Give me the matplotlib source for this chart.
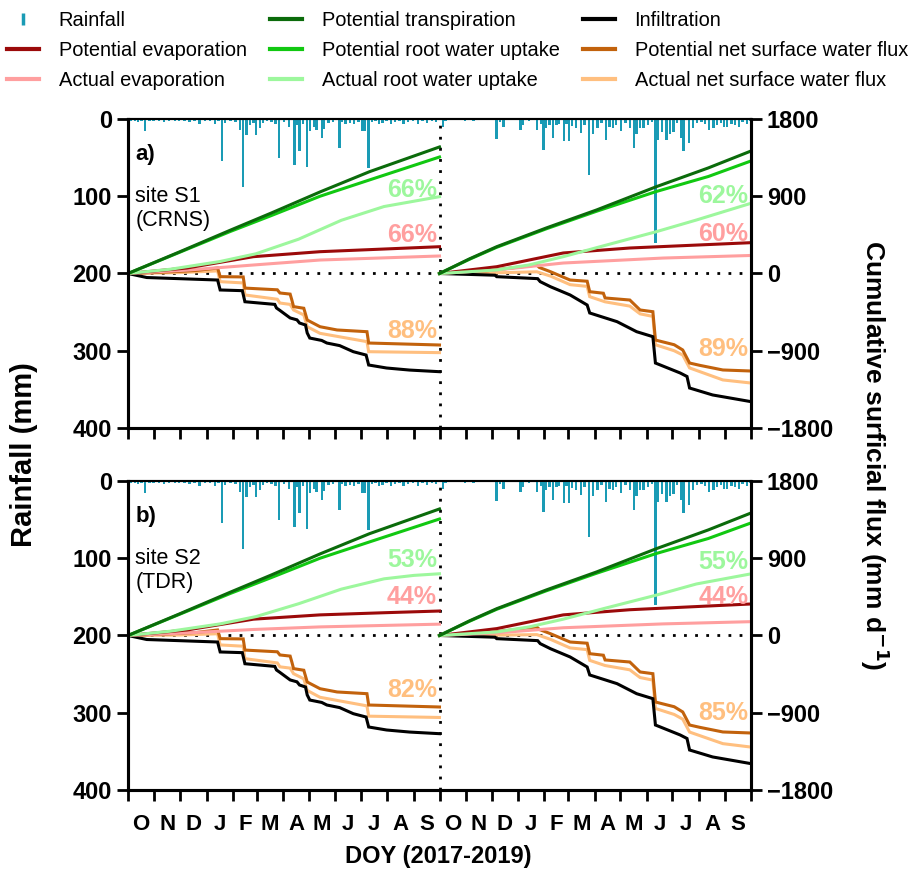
import numpy as np
import matplotlib
matplotlib.use("Agg")
import matplotlib.pyplot as plt
from matplotlib.lines import Line2D

plt.rcParams['font.family'] = ['Liberation Sans', 'DejaVu Sans']

# rainfall events (day since 1 Oct 2017, mm)
rain_day = [3, 8, 12, 16, 20, 25, 30, 36, 42, 48, 55, 60, 66, 72, 78, 84, 90, 96, 102, 106,
            110, 114, 120, 126, 131, 135, 139, 143, 147, 150, 155, 158, 163, 168, 173, 177, 183,
            189, 195, 198, 201, 205, 210, 213, 218, 221, 227, 230, 235, 240, 248, 251, 255, 260,
            265, 270, 274, 277, 282, 286, 290, 294, 298, 303, 308, 313, 318, 323, 328, 334, 340,
            345, 350, 356, 361,
            369, 372, 395, 405, 432, 436, 440, 460, 463, 470, 479, 484, 487, 490, 494, 498, 502,
            505, 511, 514, 517, 520, 525, 531, 535, 540, 545, 550, 555, 560, 564, 568, 572, 578,
            583, 588, 593, 596, 600, 604, 609, 614, 618, 621, 626, 631, 635, 639, 643, 648, 651,
            657, 662, 667, 672, 676, 681, 686, 690, 695, 698, 702, 707, 711, 716, 720, 725, 729]
rain_mm = [3, 2, 4, 3, 16, 3, 2, 3, 4, 2, 3, 2, 3, 4, 2, 6, 2, 3, 7, 3,
           55, 5, 3, 4, 14, 88, 21, 8, 5, 21, 12, 5, 3, 4, 6, 50, 4,
           10, 60, 8, 42, 6, 62, 16, 10, 14, 25, 13, 5, 4, 38, 4, 7, 5,
           6, 4, 15, 15, 63, 4, 3, 6, 5, 3, 7, 4, 3, 6, 4, 3, 6,
           3, 5, 3, 4,
           10, 3, 2, 2, 26, 4, 10, 14, 8, 3, 14, 6, 40, 12, 8, 24, 8,
           7, 29, 6, 29, 9, 12, 18, 8, 72, 20, 12, 5, 27, 10, 12, 8, 16,
           5, 12, 38, 20, 12, 12, 8, 4, 160, 27, 17, 27, 20, 17, 5, 24, 42,
           31, 12, 5, 4, 6, 14, 12, 8, 5, 11, 11, 6, 8, 10, 4, 6, 3]

# cumulative fluxes, year 1 (Oct 2017 - Sep 2018) and year 2 (Oct 2018 - Sep 2019)
pt_d1 = [0, 60, 120, 168, 225, 283, 365]
pt_v1 = [0, 250, 505, 705, 950, 1186, 1474]
pt_d2 = [365, 400, 432, 490, 549, 619, 680, 730]
pt_v2 = [0, 170, 312, 530, 740, 1011, 1230, 1427]

prwu_d1 = [0, 60, 120, 168, 225, 283, 365]
prwu_v1 = [0, 245, 490, 675, 900, 1090, 1357]
prwu_d2 = [365, 400, 432, 490, 549, 619, 680, 730]
prwu_v2 = [0, 165, 305, 520, 725, 955, 1130, 1311]

inf_d1 = [0, 22, 105, 108, 134, 137, 172, 174, 178, 190, 198, 201, 208, 210, 213, 227, 233,
          248, 264, 279, 282, 303, 330, 365]
inf_v1 = [0, -47, -76, -192, -200, -329, -360, -402, -430, -518, -540, -577, -600, -693, -752,
          -780, -810, -840, -911, -950, -1066, -1101, -1125, -1144]
inf_d2 = [365, 430, 432, 480, 483, 495, 518, 538, 541, 573, 596, 615, 618, 647, 655, 658, 685, 730]
inf_v2 = [0, -20, -37, -60, -95, -154, -250, -367, -460, -561, -678, -736, -1043, -1159, -1200,
          -1334, -1415, -1493]

pnet_d1 = [0, 40, 80, 105, 108, 135, 137, 175, 178, 190, 192, 194, 206, 210, 225, 245, 280, 282, 365]
pnet_v1 = [0, 15, 35, 64, -37, -40, -170, -190, -227, -240, -309, -386, -405, -542, -620, -658,
           -678, -810, -833]
pnet_d2 = [365, 420, 479, 482, 495, 518, 538, 541, 557, 559, 588, 600, 615, 618, 640, 650, 658, 670, 697, 730]
pnet_v2 = [0, 30, 99, 70, 21, -76, -90, -212, -230, -285, -309, -425, -445, -775, -830, -891,
           -1043, -1070, -1124, -1136]

# site S1 (CRNS)
a_arwu_d1 = [0, 50, 108, 150, 200, 250, 300, 365]
a_arwu_v1 = [0, 50, 140, 230, 400, 620, 780, 895]
a_arwu_d2 = [365, 432, 470, 510, 560, 619, 666, 730]
a_arwu_v2 = [0, 41, 100, 196, 330, 487, 623, 818]
a_pe_d1 = [0, 69, 147, 225, 300, 365]
a_pe_v1 = [0, 64, 196, 254, 285, 312]
a_pe_d2 = [365, 432, 510, 588, 730]
a_pe_v2 = [0, 79, 239, 297, 359]
a_ae_d1 = [0, 70, 147, 225, 365]
a_ae_v1 = [0, 40, 99, 157, 204]
a_ae_d2 = [365, 432, 510, 627, 730]
a_ae_v2 = [0, 41, 122, 180, 210]
a_anet_d1 = [0, 60, 105, 108, 135, 137, 175, 178, 190, 194, 206, 210, 225, 280, 282, 365]
a_anet_v1 = [0, 10, 30, -95, -110, -250, -300, -344, -360, -425, -483, -620, -697, -794, -911, -922]
a_anet_d2 = [365, 440, 479, 495, 518, 538, 541, 559, 588, 600, 615, 618, 640, 650, 658, 697, 730]
a_anet_v2 = [0, 10, 20, -30, -130, -150, -270, -330, -380, -470, -500, -830, -900, -950, -1100,
             -1240, -1276]

# site S2 (TDR)
b_arwu_d1 = [0, 50, 108, 150, 200, 250, 300, 335, 365]
b_arwu_v1 = [0, 50, 135, 220, 370, 540, 660, 700, 719]
b_arwu_d2 = [365, 432, 470, 510, 560, 619, 666, 730]
b_arwu_v2 = [0, 41, 100, 190, 320, 470, 600, 718]
b_pe_d1 = [0, 69, 147, 225, 300, 365]
b_pe_v1 = [0, 64, 190, 240, 265, 285]
b_pe_d2 = [365, 432, 510, 588, 730]
b_pe_v2 = [0, 80, 240, 300, 367]
b_ae_d1 = [0, 70, 147, 225, 365]
b_ae_v1 = [0, 30, 70, 100, 132]
b_ae_d2 = [365, 432, 510, 627, 730]
b_ae_v2 = [0, 30, 90, 135, 161]
b_anet_d1 = [0, 60, 105, 108, 135, 137, 175, 178, 190, 194, 206, 210, 225, 280, 282, 365]
b_anet_v1 = [0, 5, 20, -110, -125, -270, -320, -365, -380, -445, -505, -640, -720, -820, -940, -955]
b_anet_d2 = [365, 440, 479, 495, 518, 538, 541, 559, 588, 600, 615, 618, 640, 650, 658, 697, 730]
b_anet_v2 = [0, 5, 10, -45, -145, -165, -290, -350, -400, -490, -520, -850, -920, -975, -1125,
             -1260, -1300]

# ratio labels: (year1 RWU, year1 E, year1 net, year2 RWU, year2 E, year2 net)
a_pct = ["66%", "66%", "88%", "62%", "60%", "89%"]
a_pct_y = [973, 448, -670, 903, 460, -880]
b_pct = ["53%", "44%", "82%", "55%", "44%", "85%"]
b_pct_y = [880, 449, -635, 856, 449, -903]

month_len = [31, 30, 31, 31, 28, 31, 30, 31, 30, 31, 31, 30] * 2
month_lab = list("ONDJFMAMJJAS") * 2

C_RAIN = '#1a9bb5'
C_PT = '#0b6b0b'
C_PRWU = '#11c811'
C_ARWU = '#9df79d'
C_PE = '#9b0a0a'
C_AE = '#ff9f9f'
C_INF = 'black'
C_PNET = '#c2620c'
C_ANET = '#ffbf7f'
LW = 2.2

fig = plt.figure(figsize=(9.09, 8.71), dpi=100)
ax_a = fig.add_axes([0.1408, 0.5086, 0.6854, 0.3548])
ax_b = fig.add_axes([0.1408, 0.0930, 0.6854, 0.3548])

edges = np.concatenate([[0], np.cumsum(month_len)])
centers = (edges[:-1] + edges[1:]) / 2

panels = [
    (ax_a, "a)", "site S1\n(CRNS)", a_arwu_d1, a_arwu_v1, a_arwu_d2, a_arwu_v2,
     a_pe_d1, a_pe_v1, a_pe_d2, a_pe_v2, a_ae_d1, a_ae_v1, a_ae_d2, a_ae_v2,
     a_anet_d1, a_anet_v1, a_anet_d2, a_anet_v2, a_pct, a_pct_y),
    (ax_b, "b)", "site S2\n(TDR)", b_arwu_d1, b_arwu_v1, b_arwu_d2, b_arwu_v2,
     b_pe_d1, b_pe_v1, b_pe_d2, b_pe_v2, b_ae_d1, b_ae_v1, b_ae_d2, b_ae_v2,
     b_anet_d1, b_anet_v1, b_anet_d2, b_anet_v2, b_pct, b_pct_y),
]

for i, p in enumerate(panels):
    (ax, tag, site, rw_d1, rw_v1, rw_d2, rw_v2, pe_d1, pe_v1, pe_d2, pe_v2,
     ae_d1, ae_v1, ae_d2, ae_v2, an_d1, an_v1, an_d2, an_v2, pct, pct_y) = p

    ax.bar(rain_day, rain_mm, width=2.8, color=C_RAIN, zorder=3)
    ax.set_ylim(400, 0)
    ax.set_xlim(0, 730)
    ax.set_yticks([0, 100, 200, 300, 400])
    ax.axvline(365, color='black', ls=(0, (1, 3)), lw=2, zorder=1)

    ax2 = ax.twinx()
    ax2.set_ylim(-1800, 1800)
    ax2.set_yticks([-1800, -900, 0, 900, 1800])
    ax2.axhline(0, color='black', ls=(0, (1, 3)), lw=2, zorder=1)

    for d1, v1, d2, v2, c in [
        (an_d1, an_v1, an_d2, an_v2, C_ANET),
        (pnet_d1, pnet_v1, pnet_d2, pnet_v2, C_PNET),
        (inf_d1, inf_v1, inf_d2, inf_v2, C_INF),
        (ae_d1, ae_v1, ae_d2, ae_v2, C_AE),
        (pe_d1, pe_v1, pe_d2, pe_v2, C_PE),
        (rw_d1, rw_v1, rw_d2, rw_v2, C_ARWU),
        (prwu_d1, prwu_v1, prwu_d2, prwu_v2, C_PRWU),
        (pt_d1, pt_v1, pt_d2, pt_v2, C_PT),
    ]:
        ax2.plot(d1, v1, color=c, lw=LW, solid_joinstyle='miter')
        ax2.plot(d2, v2, color=c, lw=LW, solid_joinstyle='miter')

    pcol = [C_ARWU, C_AE, C_ANET] * 2
    pxs = [362, 362, 362, 727, 727, 727]
    for t, yv, c, xv in zip(pct, pct_y, pcol, pxs):
        ax2.text(xv, yv, t, color=c, fontsize=18, fontweight='bold', ha='right', va='center')

    ax.text(0.012, 0.885, tag, transform=ax.transAxes, fontsize=16, fontweight='bold',
            va='center', ha='left')
    ax.text(0.012, 0.71, site, transform=ax.transAxes, fontsize=15.5,
            va='center', ha='left', linespacing=1.15)

    ax.set_xticks(edges)
    ax.set_xticklabels([])
    ax.set_xticks(centers, minor=True)
    if i == 1:
        ax.set_xticklabels(month_lab, minor=True)
    ax.tick_params(axis='x', which='minor', length=0, pad=17, labelsize=16)
    ax.tick_params(axis='x', which='major', length=8, width=2, direction='out')
    ax.tick_params(axis='y', length=8, width=2, labelsize=17, direction='out')
    ax2.tick_params(axis='y', length=8, width=2, labelsize=17, direction='out')
    for lab in ax.get_yticklabels() + ax2.get_yticklabels() + ax.get_xticklabels(minor=True):
        lab.set_fontweight('bold')
    for s in ['left', 'bottom', 'right']:
        ax.spines[s].set_linewidth(2.2)
        ax2.spines[s].set_linewidth(2.2)
    ax.spines['top'].set_linewidth(1.5)
    ax2.spines['top'].set_linewidth(1.5)

fig.text(0.026, 0.478, "Rainfall (mm)", rotation=90, fontsize=21, fontweight='bold',
         ha='center', va='center')
fig.text(0.962, 0.478, "Cumulative surficial flux (mm d$^{\\mathbf{-1}}$)", rotation=270,
         fontsize=19, fontweight='bold', ha='center', va='center')
fig.text(0.482, 0.017, "DOY (2017-2019)", fontsize=17, fontweight='bold', ha='center',
         va='center')

handles = [
    Line2D([], [], color=C_RAIN, marker='|', ls='none', markersize=9, markeredgewidth=2.5),
    Line2D([], [], color=C_PE, lw=3),
    Line2D([], [], color=C_AE, lw=3),
    Line2D([], [], color=C_PT, lw=3),
    Line2D([], [], color=C_PRWU, lw=3),
    Line2D([], [], color=C_ARWU, lw=3),
    Line2D([], [], color=C_INF, lw=3),
    Line2D([], [], color=C_PNET, lw=3),
    Line2D([], [], color=C_ANET, lw=3),
]
labels = ["Rainfall", "Potential evaporation", "Actual evaporation",
          "Potential transpiration", "Potential root water uptake", "Actual root water uptake",
          "Infiltration", "Potential net surface water flux", "Actual net surface water flux"]
fig.legend(handles, labels, ncol=3, loc='upper center', bbox_to_anchor=(0.503, 1.008),
           frameon=False, fontsize=14.4, handlelength=1.6, handletextpad=1.0,
           columnspacing=1.15, labelspacing=0.55)

fig.savefig("out.png", dpi=100)
